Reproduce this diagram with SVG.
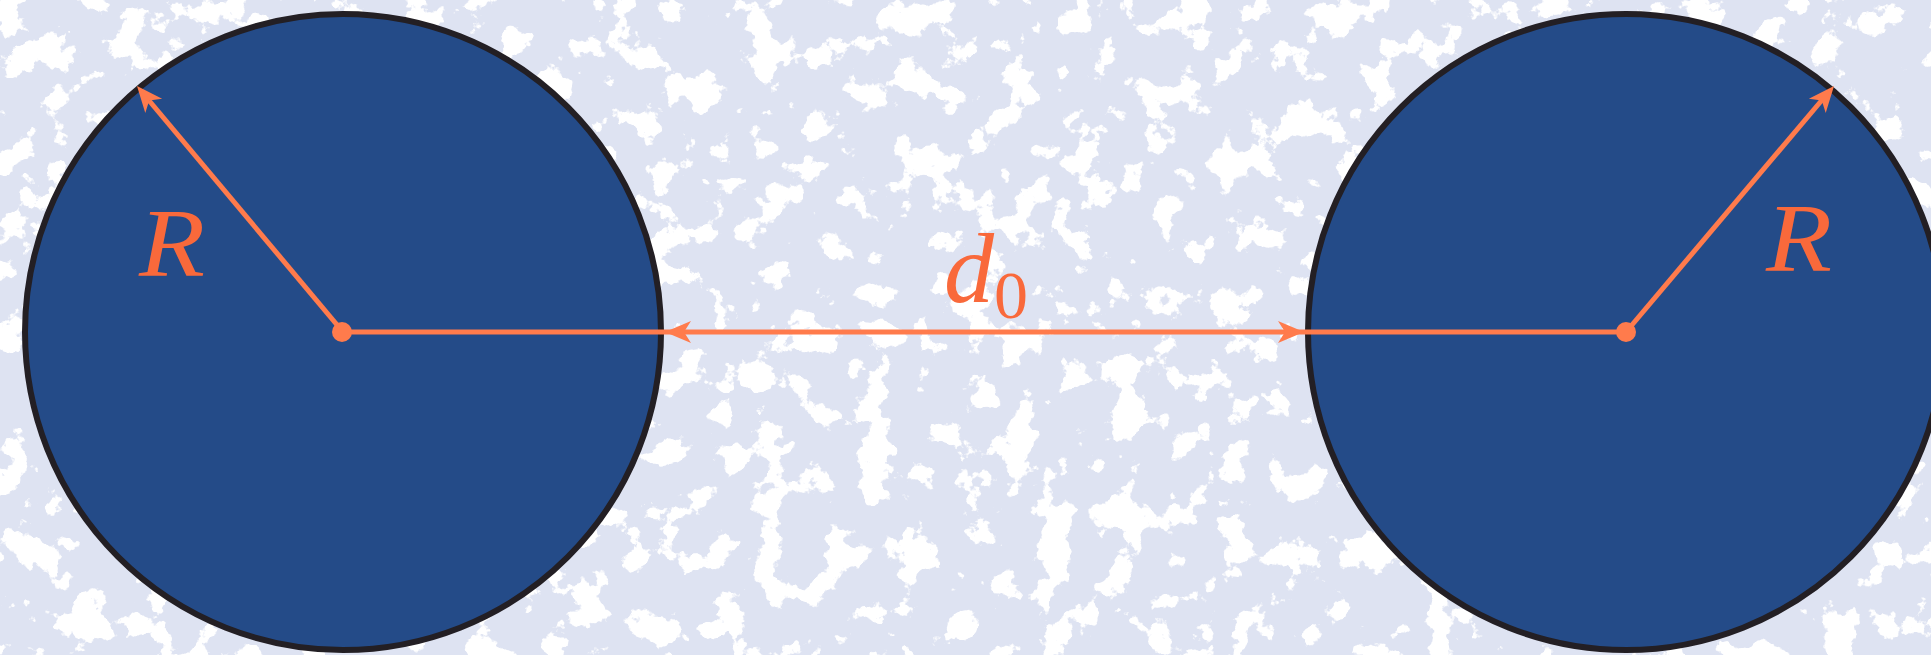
<svg xmlns="http://www.w3.org/2000/svg" xmlns:xlink="http://www.w3.org/1999/xlink" width="1931" height="655" viewBox="0 0 1931 655">
  <style>
    .disk { fill: #244B88; stroke: #231F24; stroke-width: 6; }
    .ray { stroke: #FF7B4C; stroke-width: 5; fill: none; }
    .head { fill: #FF7B4C; }
    .dot { fill: #FF7B4C; }
    .lbl { fill: #F9693B; font-style: italic; }
    .sub { font-style: normal; }
  </style>
  <defs>
    <filter id="speckle" x="0" y="0" width="1931" height="655" filterUnits="userSpaceOnUse">
      <feTurbulence type="fractalNoise" baseFrequency="0.028" numOctaves="5" seed="11" result="n"/>
      <feColorMatrix in="n" type="matrix" values="0 0 0 0 1  0 0 0 0 1  0 0 0 0 1  30 0 0 0 -17.1"/>
    </filter>
    <path id="head" d="M0,0 L-26,-11 L-19,0 L-26,11 Z"/>
  </defs>

  <g id="background">
    <rect x="0" y="0" width="1931" height="655" fill="#DEE3F2"/>
    <rect x="0" y="0" width="1931" height="655" filter="url(#speckle)"/>
  </g>

  <g id="sphere-left">
    <circle class="disk" cx="343" cy="332" r="318"/>
  </g>
  <g id="sphere-right">
    <circle class="disk" cx="1626" cy="332" r="318"/>
  </g>

  <g id="connectors">
    <line class="ray" x1="343" y1="332" x2="1626" y2="332"/>
    <line class="ray" x1="343" y1="332" x2="149" y2="100.5"/>
    <line class="ray" x1="1626" y1="332" x2="1822" y2="100"/>
    <use href="#head" class="head" transform="translate(665,332) rotate(180)"/>
    <use href="#head" class="head" transform="translate(1304,332)"/>
    <use href="#head" class="head" transform="translate(137,86) rotate(-130)"/>
    <use href="#head" class="head" transform="translate(1834,86) rotate(-50)"/>
    <circle class="dot" cx="342" cy="332" r="10"/>
    <circle class="dot" cx="1626" cy="332" r="10"/>
  </g>

  <g id="labels" font-family="'Liberation Serif', 'Times New Roman', serif">
    <text class="lbl" x="139" y="276" font-size="98" textLength="66" lengthAdjust="spacingAndGlyphs">R</text>
    <text class="lbl" x="1766" y="271" font-size="98" textLength="66" lengthAdjust="spacingAndGlyphs">R</text>
    <text class="lbl" x="944" y="302" font-size="100">d<tspan class="sub" font-size="68" x="994" y="318">0</tspan></text>
  </g>
</svg>
